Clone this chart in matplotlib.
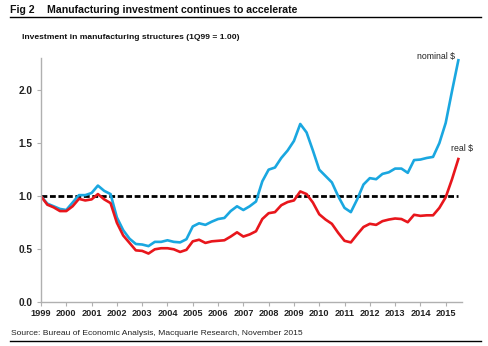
import numpy as np
import matplotlib.pyplot as plt
from matplotlib.lines import Line2D

plt.rcParams['font.family'] = ['Liberation Sans', 'DejaVu Sans']

# quarterly index, 1Q99 .. 3Q15 (1Q99 = 1.00)
nominal = [1.00, 0.93, 0.905, 0.88, 0.87, 0.94, 1.01, 1.01, 1.03, 1.10, 1.05, 1.02,
           0.80, 0.68, 0.60, 0.55, 0.545, 0.53, 0.57, 0.57, 0.585, 0.57, 0.565, 0.595,
           0.715, 0.745, 0.73, 0.76, 0.785, 0.795, 0.86, 0.905, 0.87, 0.905, 0.95, 1.14,
           1.25, 1.27, 1.36, 1.43, 1.52, 1.68, 1.60, 1.43, 1.25, 1.19, 1.13, 1.00,
           0.89, 0.85, 0.97, 1.11, 1.17, 1.16, 1.21, 1.225, 1.26, 1.26, 1.22, 1.34,
           1.345, 1.36, 1.37, 1.50, 1.69, 1.99, 2.28]
real = [1.00, 0.92, 0.895, 0.86, 0.86, 0.905, 0.975, 0.96, 0.97, 1.02, 0.97, 0.935,
        0.75, 0.63, 0.56, 0.49, 0.485, 0.46, 0.50, 0.51, 0.51, 0.50, 0.475, 0.495,
        0.575, 0.59, 0.56, 0.575, 0.58, 0.585, 0.62, 0.66, 0.62, 0.64, 0.67, 0.785,
        0.84, 0.85, 0.915, 0.945, 0.96, 1.045, 1.02, 0.94, 0.83, 0.78, 0.74, 0.655,
        0.58, 0.565, 0.64, 0.71, 0.74, 0.73, 0.765, 0.78, 0.79, 0.785, 0.755, 0.825,
        0.815, 0.82, 0.82, 0.89, 0.99, 1.16, 1.35]
years = list(range(1999, 2016))

t = 1999 + np.arange(len(nominal)) / 4.0

fig = plt.figure(figsize=(4.88, 3.46), dpi=100)
ax = fig.add_axes([0.084, 0.126, 0.863, 0.706])

ax.plot([t[0], t[-1]], [1.0, 1.0], color='black', lw=2.0, dashes=(2.1, 0.95), zorder=1)
ax.plot(t, nominal, color='#1aa7e0', lw=1.9, zorder=2)
ax.plot(t, real, color='#e8161c', lw=1.9, zorder=2)

ax.set_xlim(1999, 2015.65)
ax.set_ylim(0, 2.3)
ax.set_xticks(years)
ax.set_xticklabels([str(y) for y in years], fontsize=6.6, fontweight='bold')
ax.set_yticks([0.0, 0.5, 1.0, 1.5, 2.0])
ax.set_yticklabels(['0.0', '0.5', '1.0', '1.5', '2.0'], fontsize=7.3, fontweight='bold')
for s in ['top', 'right']:
    ax.spines[s].set_visible(False)
for s in ['left', 'bottom']:
    ax.spines[s].set_color('#b0b0b0')
    ax.spines[s].set_linewidth(1.0)
ax.tick_params(axis='both', colors='#b0b0b0', length=3, width=0.8, labelcolor='#222222')
ax.tick_params(axis='x', pad=2)
ax.tick_params(axis='y', pad=3)

ax.text(2015.35, 2.32, 'nominal $', fontsize=6.3, ha='right', va='center', color='#222222')
ax.text(2015.2, 1.45, 'real $', fontsize=6.3, ha='left', va='center', color='#222222')

fig.text(0.02, 0.971, 'Fig 2', fontsize=7.6, fontweight='bold',
         ha='left', va='center', color='#111111')
fig.text(0.096, 0.971, 'Manufacturing investment continues to accelerate',
         fontsize=7.6, fontweight='bold', ha='left', va='center', color='#111111')
fig.add_artist(Line2D([0.02, 0.985], [0.950, 0.950], color='black', lw=1.0))
fig.text(0.045, 0.893, 'Investment in manufacturing structures (1Q99 = 1.00)',
         fontsize=6.1, fontweight='bold', ha='left', va='center', color='#111111')
fig.text(0.022, 0.037, 'Source: Bureau of Economic Analysis, Macquarie Research, November 2015',
         fontsize=6.1, ha='left', va='center', color='#222222')
fig.add_artist(Line2D([0.02, 0.985], [0.014, 0.014], color='black', lw=1.0))

fig.savefig('out.png', dpi=100)
